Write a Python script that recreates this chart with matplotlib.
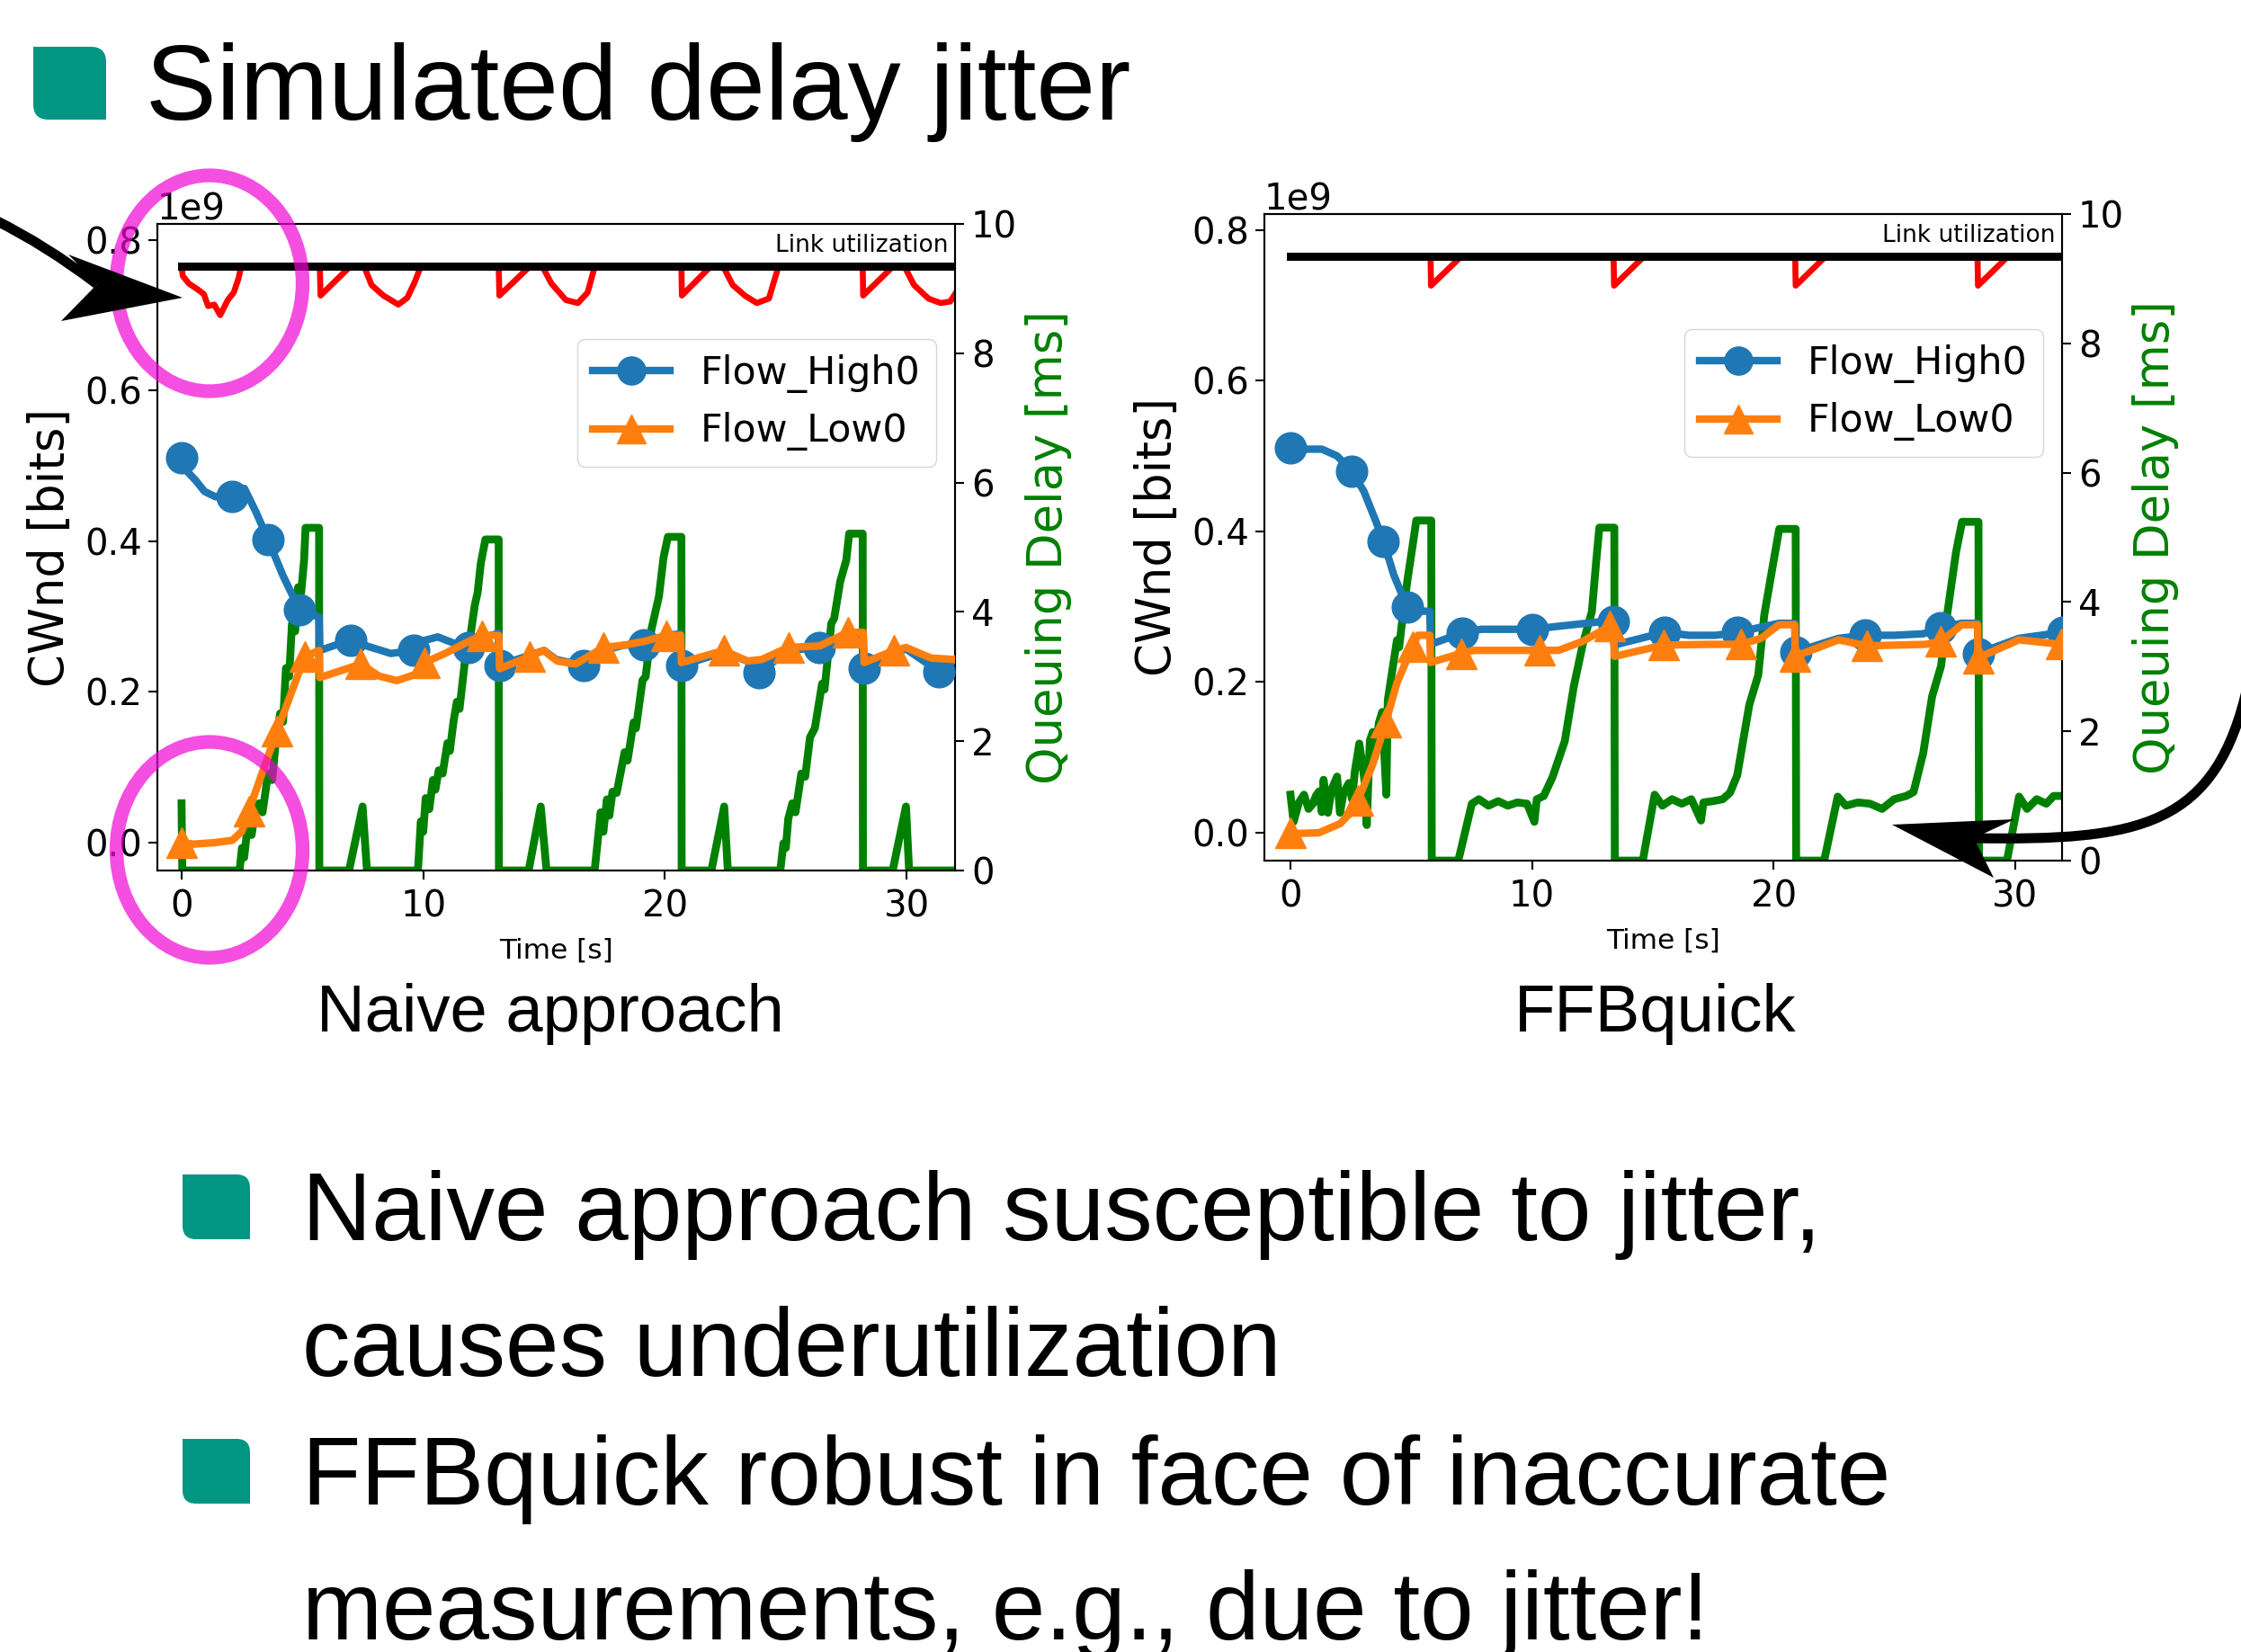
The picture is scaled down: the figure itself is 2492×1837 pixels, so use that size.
import numpy as np
import matplotlib
matplotlib.use('Agg')
import matplotlib.pyplot as plt
from matplotlib.path import Path
from matplotlib.patches import PathPatch, Ellipse, Polygon

W, H = 2492, 1837

# ---------------- data (CWnd in 1e9 bits, delay in ms, time in s) ----------------
link_capacity = 0.765

# Naive approach
naive_high_t = [0.0, 0.25, 0.6, 0.95, 1.4, 2.07, 2.6, 3.09, 3.58, 4.2, 4.88, 5.69, 5.72, 6.99, 7.66,
                8.66, 9.59, 9.9, 10.6, 11.4, 11.88, 12.5, 13.12, 13.16, 13.87, 15.0, 15.5, 16.65,
                17.46, 18.3, 19.13, 20.06, 20.65, 20.68, 22.44, 23.4, 23.88, 25.1, 26.4, 27.56,
                28.2, 28.24, 29.48, 29.97, 31.34, 32.0]
naive_high_cw = [0.511, 0.492, 0.48, 0.466, 0.459, 0.46, 0.47, 0.438, 0.402, 0.354, 0.309, 0.299,
                 0.255, 0.269, 0.261, 0.251, 0.255, 0.267, 0.273, 0.263, 0.259, 0.272, 0.278, 0.235,
                 0.243, 0.255, 0.243, 0.235, 0.255, 0.262, 0.263, 0.275, 0.277, 0.235, 0.253, 0.241,
                 0.225, 0.255, 0.259, 0.276, 0.278, 0.232, 0.252, 0.257, 0.227, 0.243]
naive_high_marks = [0.0, 2.07, 3.58, 4.88, 6.99, 9.59, 11.88, 13.16, 16.65, 19.13, 20.68, 23.88,
                    26.4, 28.24, 31.34]

naive_low_t = [0.0, 0.5, 1.36, 2.1, 2.5, 2.78, 3.33, 3.95, 4.45, 5.1, 5.69, 5.72, 7.42, 8.17, 8.91,
               9.65, 10.06, 10.9, 11.88, 12.44, 13.12, 13.16, 14.4, 14.98, 15.54, 16.3, 17.46, 18.3,
               19.13, 20.06, 20.65, 20.68, 22.44, 23.4, 24.0, 25.1, 26.4, 27.56, 28.2, 28.24, 29.48,
               29.97, 31.0, 32.0]
naive_low_cw = [0.0, -0.002, 0.0, 0.003, 0.015, 0.042, 0.092, 0.148, 0.191, 0.247, 0.255, 0.219,
                0.237, 0.221, 0.215, 0.223, 0.239, 0.251, 0.267, 0.275, 0.275, 0.231, 0.247, 0.255,
                0.241, 0.237, 0.259, 0.262, 0.267, 0.275, 0.275, 0.239, 0.255, 0.241, 0.243, 0.259,
                0.261, 0.279, 0.279, 0.239, 0.255, 0.259, 0.245, 0.243]
naive_low_marks = [0.0, 2.78, 3.95, 5.1, 7.42, 10.06, 12.44, 14.4, 17.46, 20.06, 22.44, 25.1,
                   27.56, 29.48]

naive_delay_t = [0.0, 0.03, 2.4, 2.5, 2.59, 2.73, 2.9, 3.05, 3.21, 3.35, 3.58, 3.75, 3.9, 4.08, 4.2,
                 4.32, 4.45, 4.57, 4.7, 4.82, 4.95, 5.07, 5.13, 5.69, 5.7, 6.93, 7.49, 7.67, 9.78,
                 9.9, 10.0, 10.1, 10.25, 10.4, 10.5, 10.64, 10.8, 11.0, 11.1, 11.25, 11.39, 11.5,
                 11.76, 11.9, 12.13, 12.25, 12.38, 12.57, 13.12, 13.13, 14.36, 14.86, 15.1, 17.09,
                 17.34, 17.45, 17.6, 17.7, 17.83, 18.0, 18.33, 18.45, 18.7, 18.8, 19.07, 19.2, 19.44,
                 19.75, 19.94, 20.12, 20.68, 20.69, 21.92, 22.45, 22.6, 24.77, 24.9, 25.0, 25.1,
                 25.27, 25.4, 25.64, 25.8, 26.0, 26.2, 26.5, 26.6, 26.88, 27.0, 27.25, 27.5, 27.62,
                 28.18, 28.19, 29.42, 29.97, 30.1, 32.0]
naive_delay_ms = [1.04, 0.0, 0.0, 0.35, 0.2, 0.67, 0.55, 0.95, 1.04, 0.9, 1.5, 1.4, 2.0, 2.43, 2.3,
                  3.13, 3.0, 3.82, 3.7, 4.38, 4.3, 4.8, 5.3, 5.3, 0.0, 0.0, 0.99, 0.0, 0.0,
                  0.76, 0.6, 1.12, 0.95, 1.4, 1.25, 1.55, 1.5, 1.97, 1.85, 2.3, 2.61, 2.5,
                  3.36, 3.5, 4.1, 4.3, 4.75, 5.12, 5.12, 0.0, 0.0, 0.99, 0.0, 0.0,
                  0.9, 0.6, 1.1, 0.85, 1.22, 1.2, 1.83, 1.7, 2.29, 2.2, 2.94, 3.0, 3.73,
                  4.24, 4.84, 5.16, 5.16, 0.0, 0.0, 0.99, 0.0, 0.0, 0.42, 0.35, 0.8,
                  1.04, 0.9, 1.5, 1.45, 2.06, 2.2, 2.89, 2.8, 3.82, 3.9, 4.47, 4.8, 5.21,
                  5.21, 0.0, 0.0, 0.99, 0.0, 0.0]

naive_util_t = [0.0, 0.05, 0.3, 0.67, 0.92, 1.1, 1.35, 1.6, 1.91, 2.16, 2.35, 2.47, 5.72, 5.75, 6.99,
                7.55, 7.86, 8.35, 8.97, 9.34, 9.65, 9.9, 13.12, 13.15, 14.42, 14.92, 15.3, 15.9,
                16.4, 16.8, 17.1, 20.68, 20.7, 21.9, 22.4, 22.8, 23.3, 23.8, 24.3, 24.7, 28.18,
                28.2, 29.45, 29.9, 30.3, 30.9, 31.4, 31.8, 32.0]
naive_util_cw = [0.765, 0.752, 0.742, 0.734, 0.728, 0.712, 0.714, 0.700, 0.720, 0.730, 0.748, 0.765,
                 0.765, 0.726, 0.765, 0.765, 0.740, 0.726, 0.714, 0.723, 0.744, 0.765, 0.765, 0.726,
                 0.765, 0.765, 0.742, 0.720, 0.716, 0.730, 0.765, 0.765, 0.726, 0.765, 0.765, 0.740,
                 0.726, 0.716, 0.722, 0.765, 0.765, 0.726, 0.765, 0.765, 0.740, 0.722, 0.716, 0.718,
                 0.728]

# FFBquick
ffb_high_t = [0.0, 0.6, 1.3, 1.93, 2.54, 3.04, 3.54, 3.85, 4.28, 4.84, 5.2, 5.77, 5.8, 7.1, 7.9,
              10.03, 11.1, 12.85, 13.35, 13.4, 15.5, 16.5, 17.6, 18.52, 19.37, 20.24, 20.9, 20.93,
              22.7, 23.81, 25.0, 26.2, 26.94, 27.8, 28.45, 28.48, 30.17, 31.97]
ffb_high_cw = [0.511, 0.509, 0.509, 0.50, 0.48, 0.453, 0.413, 0.387, 0.342, 0.299, 0.294, 0.294,
               0.25, 0.265, 0.27, 0.27, 0.274, 0.28, 0.281, 0.249, 0.266, 0.262, 0.262, 0.266,
               0.272, 0.278, 0.278, 0.24, 0.258, 0.262, 0.262, 0.264, 0.272, 0.278, 0.278, 0.238,
               0.258, 0.266]
ffb_high_marks = [0.0, 2.54, 3.85, 4.84, 7.1, 10.03, 13.35, 15.5, 18.52, 20.93, 23.81, 26.94,
                  28.48, 31.97]

ffb_low_t = [0.0, 0.31, 1.18, 2.05, 2.54, 2.79, 3.41, 3.95, 4.41, 5.05, 5.28, 5.77, 5.8, 7.08, 7.6,
             10.33, 11.1, 12.1, 13.22, 13.38, 13.41, 15.45, 17.4, 18.65, 19.49, 20.23, 20.88, 20.9,
             22.7, 23.86, 26.3, 26.94, 27.8, 28.45, 28.47, 30.17, 31.9, 32.0]
ffb_low_cw = [0.0, -0.001, 0.0, 0.012, 0.028, 0.043, 0.091, 0.147, 0.199, 0.247, 0.262, 0.262,
              0.226, 0.238, 0.242, 0.242, 0.242, 0.254, 0.274, 0.274, 0.234, 0.249, 0.25, 0.25,
              0.258, 0.276, 0.276, 0.234, 0.256, 0.248, 0.25, 0.254, 0.276, 0.276, 0.232, 0.256,
              0.25, 0.25]
ffb_low_marks = [0.0, 2.79, 3.95, 5.05, 7.08, 10.33, 13.22, 15.45, 18.65, 20.9, 23.86, 26.94,
                 28.47, 31.9]

ffb_delay_t = [0.0, 0.13, 0.35, 0.56, 0.75, 0.93, 1.05, 1.18, 1.3, 1.37, 1.55, 1.7, 1.93, 2.05, 2.2,
               2.42, 2.55, 2.67, 2.85, 2.98, 3.08, 3.16, 3.25, 3.29, 3.41, 3.5, 3.66, 3.8, 3.97,
               4.03, 4.2, 4.41, 4.5, 4.65, 4.84, 5.03, 5.21, 5.83, 5.85, 6.95, 7.51, 7.8, 8.2, 8.6,
               9.0, 9.4, 9.8, 10.1, 10.2, 10.49, 10.86, 11.36, 11.73, 12.1, 12.48, 12.66, 12.79,
               13.41, 13.43, 14.59, 15.08, 15.4, 15.8, 16.2, 16.6, 17.0, 17.1, 17.5, 17.9, 18.2,
               18.5, 19.0, 19.37, 19.62, 19.99, 20.24, 20.92, 20.94, 22.1, 22.66, 23.0, 23.5, 24.0,
               24.5, 25.0, 25.5, 25.8, 26.2, 26.57, 26.94, 27.19, 27.56, 27.81, 28.49, 28.51, 29.67,
               30.17, 30.5, 30.9, 31.3, 31.6, 32.0]
ffb_delay_ms = [1.02, 0.6, 0.9, 1.02, 0.8, 0.88, 1.0, 1.07, 0.75, 1.25, 0.74, 1.1, 1.3, 0.74, 1.05,
                1.2, 0.95, 1.39, 1.81, 1.48, 1.2, 0.55, 1.5, 1.86, 1.99, 1.6, 2.13, 2.3, 1.02,
                2.48, 2.9, 3.41, 3.3, 3.78, 4.33, 4.8, 5.26, 5.26, 0.0, 0.0, 0.88, 0.95, 0.85, 0.92,
                0.85, 0.9, 0.88, 0.6, 0.95, 1.0, 1.3, 1.85, 2.69, 3.34, 3.85, 4.63, 5.15,
                5.15, 0.0, 0.0, 1.02, 0.85, 0.95, 0.88, 0.95, 0.62, 0.9, 0.92, 0.95, 1.05,
                1.32, 2.41, 2.87, 3.8, 4.6, 5.13, 5.13, 0.0, 0.0, 0.99, 0.85, 0.9, 0.88,
                0.8, 0.95, 1.0, 1.06, 1.66, 2.54, 3.01, 3.8, 4.77, 5.24, 5.24, 0.0, 0.0,
                0.99, 0.8, 0.95, 0.88, 1.0, 1.0]

ffb_util_t = [0.0, 5.8, 5.82, 7.08, 13.38, 13.4, 14.65, 20.9, 20.92, 22.17, 28.45, 28.47, 29.72, 32.0]
ffb_util_cw = [0.765, 0.765, 0.726, 0.765, 0.765, 0.726, 0.765, 0.765, 0.726, 0.765, 0.765, 0.726,
               0.765, 0.765]

x_ticks = [0, 10, 20, 30]
cwnd_ticks = [0.0, 0.2, 0.4, 0.6, 0.8]
delay_ticks = [0, 2, 4, 6, 8, 10]
series_labels = ['Flow_High0', 'Flow_Low0']
panel_titles = ['Naive approach', 'FFBquick']
slide_title = 'Simulated delay jitter'
bullet_lines = [['Naive approach susceptible to jitter,', 'causes underutilization'],
                ['FFBquick robust in face of inaccurate', 'measurements, e.g., due to jitter!']]

TEAL = '#009682'
SLIDE_FONT = 'Liberation Sans'


def fx(x):
    return x / W


def fy(y):
    return 1 - y / H


def mark_idx(t, marks):
    t = np.asarray(t)
    return [int(np.argmin(np.abs(t - m))) for m in marks]


def draw_panel(fig, box, xlim, high, low, delay, util):
    left, top, right, bottom = box
    ax = fig.add_axes([fx(left), fy(bottom), (right - left) / W, (bottom - top) / H])
    ax2 = ax.twinx()
    ax.set_zorder(ax2.get_zorder() + 1)
    ax.patch.set_visible(False)

    ax2.plot(delay[0], delay[1], color='green', lw=6.3)
    ax2.set_ylim(0, 10)
    ax2.set_yticks(delay_ticks)
    ax2.set_ylabel('Queuing Delay [ms]', color='green', fontsize=38, labelpad=6)

    ax.plot(util[0], np.asarray(util[1]) * 1e9, color='red', lw=4.8, zorder=1)
    ax.plot([0, 33], [link_capacity * 1e9] * 2, color='black', lw=6.5, zorder=1.5)
    l1, = ax.plot(high[0], np.asarray(high[1]) * 1e9, color='C0', lw=6, marker='o',
                  markersize=25, markevery=mark_idx(high[0], high[2]), zorder=3)
    l2, = ax.plot(low[0], np.asarray(low[1]) * 1e9, color='C1', lw=6, marker='^',
                  markersize=25, markevery=mark_idx(low[0], low[2]), zorder=3)

    ax.set_xlim(*xlim)
    ax.set_ylim(-0.037e9, 0.821e9)
    ax.set_xticks(x_ticks)
    ax.set_yticks(np.array(cwnd_ticks) * 1e9)
    ax.ticklabel_format(axis='y', style='sci', scilimits=(9, 9))
    ax.set_xlabel('Time [s]', fontsize=22.5, labelpad=10)
    ax.set_ylabel('CWnd [bits]', fontsize=38, labelpad=9)
    ax.yaxis.get_offset_text().set_fontsize(29)
    ax.text(0.992, 0.967, 'Link utilization', transform=ax.transAxes, ha='right',
            va='center', fontsize=19)

    ax.legend([l1, l2], series_labels, loc='upper right', bbox_to_anchor=(0.976, 0.822),
              borderaxespad=0, fontsize=30.8, markerscale=0.9)

    for a in (ax, ax2):
        for sp in a.spines.values():
            sp.set_linewidth(1.5)
    ax.tick_params(axis='x', labelsize=29, length=7, width=1.5, pad=8)
    ax.tick_params(axis='y', labelsize=29, length=7, width=1.5, pad=5)
    ax2.tick_params(axis='y', labelsize=29, length=7, width=1.5, pad=6)
    return ax


def rounded_bullet(fig, x0, y0, x1, y1, r):
    verts = [(x0, y0), (x1 - r, y0), (x1, y0), (x1, y0 + r), (x1, y1), (x0 + r, y1),
             (x0, y1), (x0, y1 - r), (x0, y0)]
    codes = [Path.MOVETO, Path.LINETO, Path.CURVE3, Path.CURVE3, Path.LINETO, Path.LINETO,
             Path.CURVE3, Path.CURVE3, Path.CLOSEPOLY]
    verts = [(fx(x), fy(y)) for x, y in verts]
    fig.add_artist(PathPatch(Path(verts, codes), facecolor=TEAL, edgecolor='none',
                             transform=fig.transFigure))


def curved_arrow(fig, body, head):
    codes = [Path.MOVETO] + [Path.CURVE4] * 3 if len(body) == 4 else [Path.MOVETO] + [Path.CURVE3] * 2
    path = Path([(fx(x), fy(y)) for x, y in body], codes)
    fig.add_artist(PathPatch(path, facecolor='none', edgecolor='black', lw=8,
                             transform=fig.transFigure, zorder=5))
    fig.add_artist(Polygon([(fx(x), fy(y)) for x, y in head], closed=True, facecolor='black',
                           edgecolor='none', transform=fig.transFigure, zorder=5))


def main():
    fig = plt.figure(figsize=(W / 100, H / 100), dpi=100)

    draw_panel(fig, (175, 249, 1062, 968), (-1.0, 32.0),
               (naive_high_t, naive_high_cw, naive_high_marks),
               (naive_low_t, naive_low_cw, naive_low_marks),
               (naive_delay_t, naive_delay_ms), (naive_util_t, naive_util_cw))
    draw_panel(fig, (1406, 238, 2293, 957), (-1.08, 31.95),
               (ffb_high_t, ffb_high_cw, ffb_high_marks),
               (ffb_low_t, ffb_low_cw, ffb_low_marks),
               (ffb_delay_t, ffb_delay_ms), (ffb_util_t, ffb_util_cw))

    # slide texts
    rounded_bullet(fig, 37, 52, 118, 133, 17)
    fig.text(fx(162), fy(133), slide_title, fontsize=85, family=SLIDE_FONT, va='baseline')
    fig.text(fx(612), fy(1147), panel_titles[0], fontsize=53.5, family=SLIDE_FONT,
             ha='center', va='baseline')
    fig.text(fx(1841), fy(1147), panel_titles[1], fontsize=53.5, family=SLIDE_FONT,
             ha='center', va='baseline')

    baselines = [[1379, 1530], [1673, 1823]]
    bullet_tops = [1306, 1600]
    for lines, bl, top in zip(bullet_lines, baselines, bullet_tops):
        rounded_bullet(fig, 203, top, 278, top + 72, 15)
        for text, y in zip(lines, bl):
            fig.text(fx(336), fy(y), text, fontsize=77, family=SLIDE_FONT, va='baseline')

    # highlight ellipses
    for cy in (315, 945):
        fig.add_artist(Ellipse((fx(233), fy(cy)), 207 / W, 240 / H, facecolor='none',
                               edgecolor='#F005D4', alpha=0.7, lw=11,
                               transform=fig.transFigure, zorder=4))

    # annotation arrows
    curved_arrow(fig, [(-5, 245), (50, 272), (108, 316)],
                 [(203, 331), (76, 283), (108, 316), (68, 357)])
    curved_arrow(fig, [(2500, 760), (2465, 920), (2380, 935), (2195, 932)],
                 [(2104, 917), (2240, 911), (2195, 932), (2217, 976)])

    fig.savefig('out.png', dpi=100)


if __name__ == '__main__':
    main()
